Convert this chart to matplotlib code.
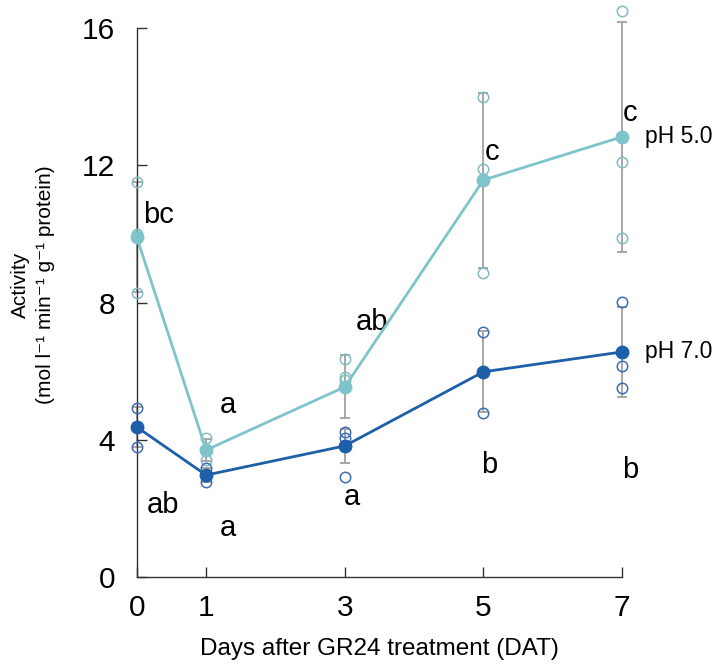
import numpy as np
import matplotlib
matplotlib.use('Agg')
import matplotlib.pyplot as plt

plt.rcParams['font.family'] = ['Liberation Sans', 'DejaVu Sans']

# Days after treatment
days = [0, 1, 3, 5, 7]

# Means and error (SD)
ph5_mean = [9.9, 3.7, 5.54, 11.57, 12.83]
ph5_err = [1.6, 0.33, 0.92, 2.55, 3.35]
ph7_mean = [4.37, 2.97, 3.82, 5.98, 6.56]
ph7_err = [0.57, 0.2, 0.5, 1.18, 1.31]

# Individual replicates (visible ones)
ph5_reps = [[11.5, 10.0, 8.28], [4.05, 3.41], [6.36, 5.83, 5.74],
            [14.0, 11.9, 8.86], [16.5, 12.1, 9.88]]
ph7_reps = [[4.93, 3.79], [3.18, 2.95, 2.77], [4.23, 4.05, 2.92],
            [7.14, 4.78], [8.02, 6.15, 5.51]]

# Significance letters
ph5_letters = ['bc', 'a', 'ab', 'c', 'c']
ph7_letters = ['ab', 'a', 'a', 'b', 'b']

series_names = ['pH 5.0', 'pH 7.0']

c5 = '#7fc4cb'
c5_open = '#80bcc2'
c7 = '#1d5fa8'
c7_open = '#3b6fb2'
err_col = '#a0a0a0'

fig = plt.figure(figsize=(7.2, 6.72), dpi=100)
ax = fig.add_axes([0.190, 0.1414, 0.674, 0.8169])

# error bars
for mean, err in [(ph5_mean, ph5_err), (ph7_mean, ph7_err)]:
    ax.errorbar(days, mean, yerr=err, fmt='none', ecolor=err_col, elinewidth=1.3,
                capsize=3.5, capthick=1.3, zorder=2, clip_on=False)

# replicates
for reps, col in [(ph5_reps, c5_open), (ph7_reps, c7_open)]:
    for d, vals in zip(days, reps):
        ax.plot([d] * len(vals), vals, 'o', mfc='none', mec=col, ms=7.5, mew=1.1,
                zorder=3, clip_on=False)

# mean lines
ax.plot(days, ph5_mean, '-o', color=c5, lw=2, ms=9, zorder=4, clip_on=False)
ax.plot(days, ph7_mean, '-o', color=c7, lw=2, ms=9, zorder=5, clip_on=False)

# letter offsets from the mean point (days, activity units)
off5 = [(0.32, 0.65), (0.31, 1.3), (0.39, 1.89), (0.12, 0.82), (0.11, 0.7)]
off7 = [(0.38, -2.27), (0.31, -1.54), (0.1, -1.49), (0.09, -2.71), (0.11, -3.44)]
for d, m, lab, (dx, dy) in zip(days, ph5_mean, ph5_letters, off5):
    ax.text(d + dx, m + dy, lab, fontsize=21, ha='center', va='center')
for d, m, lab, (dx, dy) in zip(days, ph7_mean, ph7_letters, off7):
    ax.text(d + dx, m + dy, lab, fontsize=21, ha='center', va='center')

# series labels
ax.text(days[-1] + 0.33, ph5_mean[-1], series_names[0], fontsize=16.5, ha='left', va='center')
ax.text(days[-1] + 0.33, ph7_mean[-1], series_names[1], fontsize=16.5, ha='left', va='center')

ax.set_xlim(0, 7)
ax.set_ylim(0, 16)
ax.set_xticks(days)
ax.set_yticks([0, 4, 8, 12, 16])
ax.tick_params(direction='in', length=7, width=1, labelsize=21.5, color='#333333')
ax.tick_params(axis='y', pad=15.5)
ax.tick_params(axis='x', pad=12)
for s in ['top', 'right']:
    ax.spines[s].set_visible(False)
for s in ['left', 'bottom']:
    ax.spines[s].set_color('#333333')
    ax.spines[s].set_linewidth(1)

ax.set_xlabel('Days after GR24 treatment (DAT)', fontsize=17.5, labelpad=12)
ax.set_ylabel('Activity\n(mol l\u207b\u00b9 min\u207b\u00b9 g\u207b\u00b9 protein)', fontsize=15,
              linespacing=1.45)
ax.yaxis.set_label_coords(-0.168, 0.532)

fig.savefig('out.png', dpi=100)
